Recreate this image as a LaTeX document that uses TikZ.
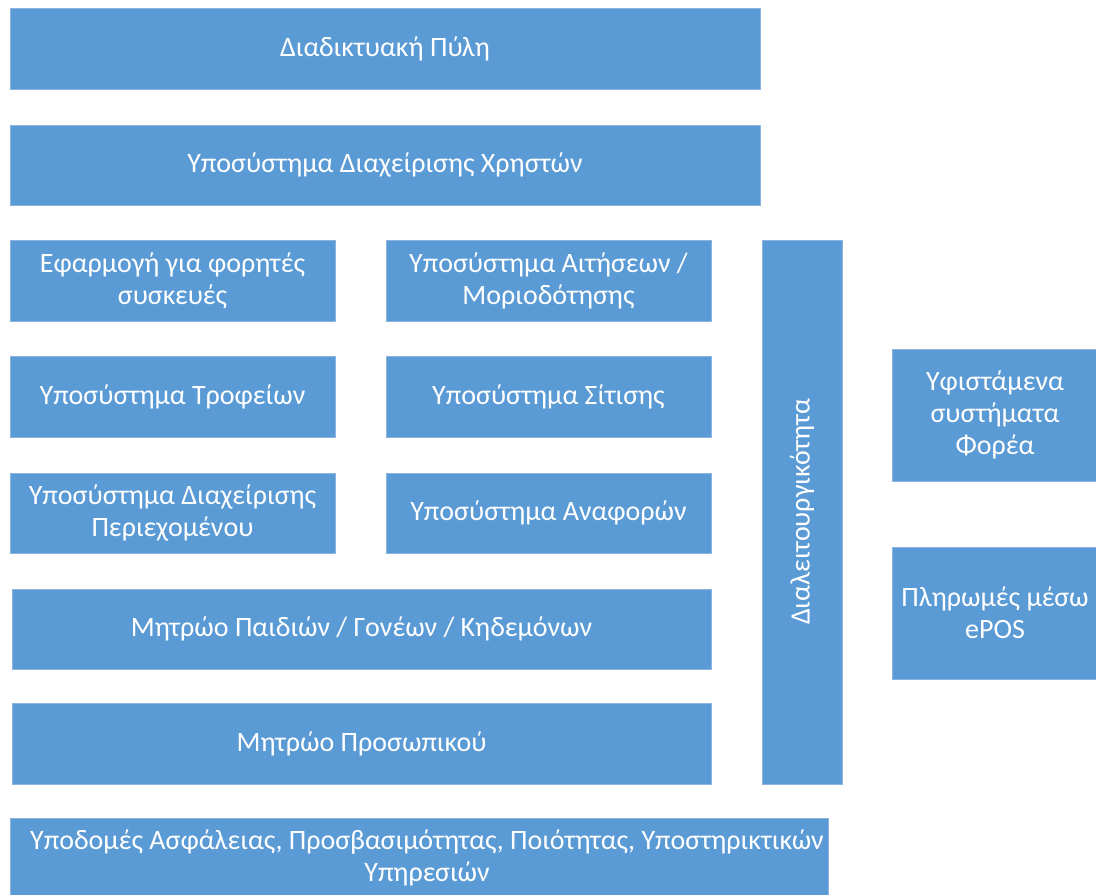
\documentclass[tikz,border=0pt]{standalone}
\usepackage{fontspec}
\setmainfont{Carlito}
\definecolor{boxblue}{HTML}{5B9BD5}
\definecolor{boxedge}{HTML}{8DB4E0}
\begin{document}
\begin{tikzpicture}[x=1pt,y=-1pt,
  box/.style={fill=boxblue, draw=boxedge, line width=0.8pt, text=white, align=center,
    font=\fontsize{28}{32}\selectfont, inner sep=0pt, anchor=center},
  boxlabel/.style={text=white, align=center, font=\fontsize{28}{32}\selectfont, inner sep=0pt}]
\useasboundingbox (0,0) rectangle (1096,895);
\clip (0,0) rectangle (1096,895);
\node[box, minimum width=750, minimum height=81] (portal) at (385,48.5) {Διαδικτυακή Πύλη};
\node[box, minimum width=750, minimum height=80] (users) at (385,165) {Υποσύστημα Διαχείρισης Χρηστών};
\node[box, minimum width=325, minimum height=81] (mobile) at (172.5,280.5) {Εφαρμογή για φορητές\\συσκευές};
\node[box, minimum width=325, minimum height=81] (apps) at (548.5,280.5) {Υποσύστημα Αιτήσεων /\\Μοριοδότησης};
\node[box, minimum width=325, minimum height=81] (fees) at (172.5,396.5) {Υποσύστημα Τροφείων};
\node[box, minimum width=325, minimum height=81] (meals) at (548.5,396.5) {Υποσύστημα Σίτισης};
\node[box, minimum width=325, minimum height=80] (cms) at (172.5,513) {Υποσύστημα Διαχείρισης\\Περιεχομένου};
\node[box, minimum width=325, minimum height=80] (reports) at (548.5,513) {Υποσύστημα Αναφορών};
\node[box, minimum width=699, minimum height=80] (children) at (361.5,629) {Μητρώο Παιδιών / Γονέων / Κηδεμόνων};
\node[box, minimum width=699, minimum height=81] (staff) at (361.5,743.5) {Μητρώο Προσωπικού};
\node[box, minimum width=80, minimum height=544] (interop) at (802,512) {};
\node[boxlabel, rotate=90] (interoplabel) at (interop.center) {Διαλειτουργικότητα};
\node[box, minimum width=206, minimum height=132] (existing) at (995,415) {Υφιστάμενα\\συστήματα\\Φορέα};
\node[box, minimum width=206, minimum height=132] (epos) at (995,613) {Πληρωμές μέσω\\ePOS};
\node[box, minimum width=818, minimum height=80] (infra) at (419,858) {};
\node[boxlabel] (infralabel) at (427,858) {Υποδομές Ασφάλειας, Προσβασιμότητας, Ποιότητας, Υποστηρικτικών\\Υπηρεσιών};
\end{tikzpicture}
\end{document}
